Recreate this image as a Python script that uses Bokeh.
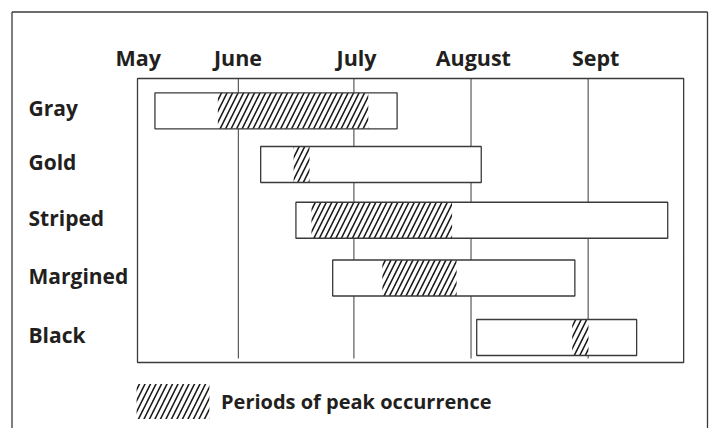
from bokeh.plotting import figure
from bokeh.models import Range1d, Legend, LegendItem, ColumnDataSource
from bokeh.core.properties import value
from bokeh.embed import file_html
from bokeh.resources import INLINE

# ---- data (x in days after 1 May, as drawn; y in row units) ----
species = ["Gray", "Gold", "Striped", "Margined", "Black"]
row_pos = [0.0, 0.947, 1.930, 2.949, 3.998]
season_start = [4.6, 32.5, 41.8, 51.5, 89.5]
season_end = [68.5, 90.7, 139.9, 115.4, 131.7]
peak_start = [21.2, 41.2, 45.9, 64.6, 114.7]
peak_end = [60.9, 45.4, 83.0, 84.2, 119.0]
month_labels = ["May", "June", "July", "August", "Sept"]
month_label_pos = [0.2, 26.5, 57.8, 88.6, 120.9]
month_grid_pos = [26.6, 57.1, 88.0, 118.9]
chart_x = (0.0, 144.1)
chart_y = (-0.570, 4.439)

# ---- layout / style ----
W, H = 710, 428
PX_DAY, X0 = 3.79, 137.0      # pixels per day, pixel of day 0
PX_ROW, Y0 = 56.7, 110.3      # pixels per row, pixel of row 0
def dx(px): return (px - X0) / PX_DAY
def dy(py): return (py - Y0) / PX_ROW

TXT = "#231f20"
LN = "#3a3a3a"
FONT = "Open Sans"
bar_h = 36 / PX_ROW

p = figure(width=W, height=H, output_backend="svg", toolbar_location=None,
           x_range=Range1d(dx(0), dx(W)), y_range=Range1d(dy(H), dy(0)),
           x_axis_location=None, y_axis_location=None,
           min_border=0, min_border_left=0, min_border_right=0,
           min_border_top=0, min_border_bottom=0)
p.background_fill_color = "white"
p.border_fill_color = "white"
p.outline_line_color = None
p.xgrid.visible = False
p.ygrid.visible = False

# outer border (left, top, right)
p.segment(x0=[dx(11.5), dx(11.5), dx(707)], y0=[dy(H + 5), dy(11.5), dy(11.5)],
          x1=[dx(11.5), dx(707), dx(707)], y1=[dy(11.5), dy(11.5), dy(H + 5)],
          line_color=LN, line_width=1.3)

# month grid lines
p.segment(x0=month_grid_pos, x1=month_grid_pos,
          y0=[chart_y[0]] * len(month_grid_pos), y1=[dy(358)] * len(month_grid_pos),
          line_color=LN, line_width=1)

# chart box
p.quad(left=[chart_x[0]], right=[chart_x[1]], top=[chart_y[0]], bottom=[chart_y[1]],
       fill_color=None, line_color=LN, line_width=1.3)

src = ColumnDataSource(dict(
    s=season_start, e=season_end, ps=peak_start, pe=peak_end,
    top=[r - bar_h / 2 for r in row_pos], bottom=[r + bar_h / 2 for r in row_pos]))

p.quad(left="s", right="e", top="top", bottom="bottom", source=src,
       fill_color="white", line_color=None)
peak = p.quad(left="ps", right="pe", top="top", bottom="bottom", source=src,
              fill_color="white", fill_alpha=0, line_color=None,
              hatch_pattern="/", hatch_scale=11, hatch_weight=1.6, hatch_color="#1a1a1a")
p.quad(left="s", right="e", top="top", bottom="bottom", source=src,
       fill_color=None, line_color=LN, line_width=1.3)

# month labels
p.text(x=month_label_pos, y=[dy(56.5)] * len(month_label_pos), text=month_labels,
       text_align="center", text_baseline="alphabetic",
       text_font=value(FONT), text_font_style="bold", text_font_size=value("21.5px"),
       text_color=TXT)

# species labels
p.text(x=[dx(28)] * len(species), y=[r - 2.5 / PX_ROW for r in row_pos], text=species,
       text_align="left", text_baseline="alphabetic",
       text_font=value(FONT), text_font_style="bold", text_font_size=value("21px"),
       text_color=TXT)

legend = Legend(items=[LegendItem(label="Periods of peak occurrence", renderers=[peak])],
                location=(127, 5), orientation="vertical",
                glyph_width=91, glyph_height=44, label_standoff=3,
                label_text_font=FONT, label_text_font_style="bold",
                label_text_font_size="20px", label_text_color=TXT,
                padding=0, margin=0, spacing=0, border_line_color=None,
                background_fill_alpha=0)
p.add_layout(legend, "center")

open("out.html", "w").write(file_html(p, INLINE))
